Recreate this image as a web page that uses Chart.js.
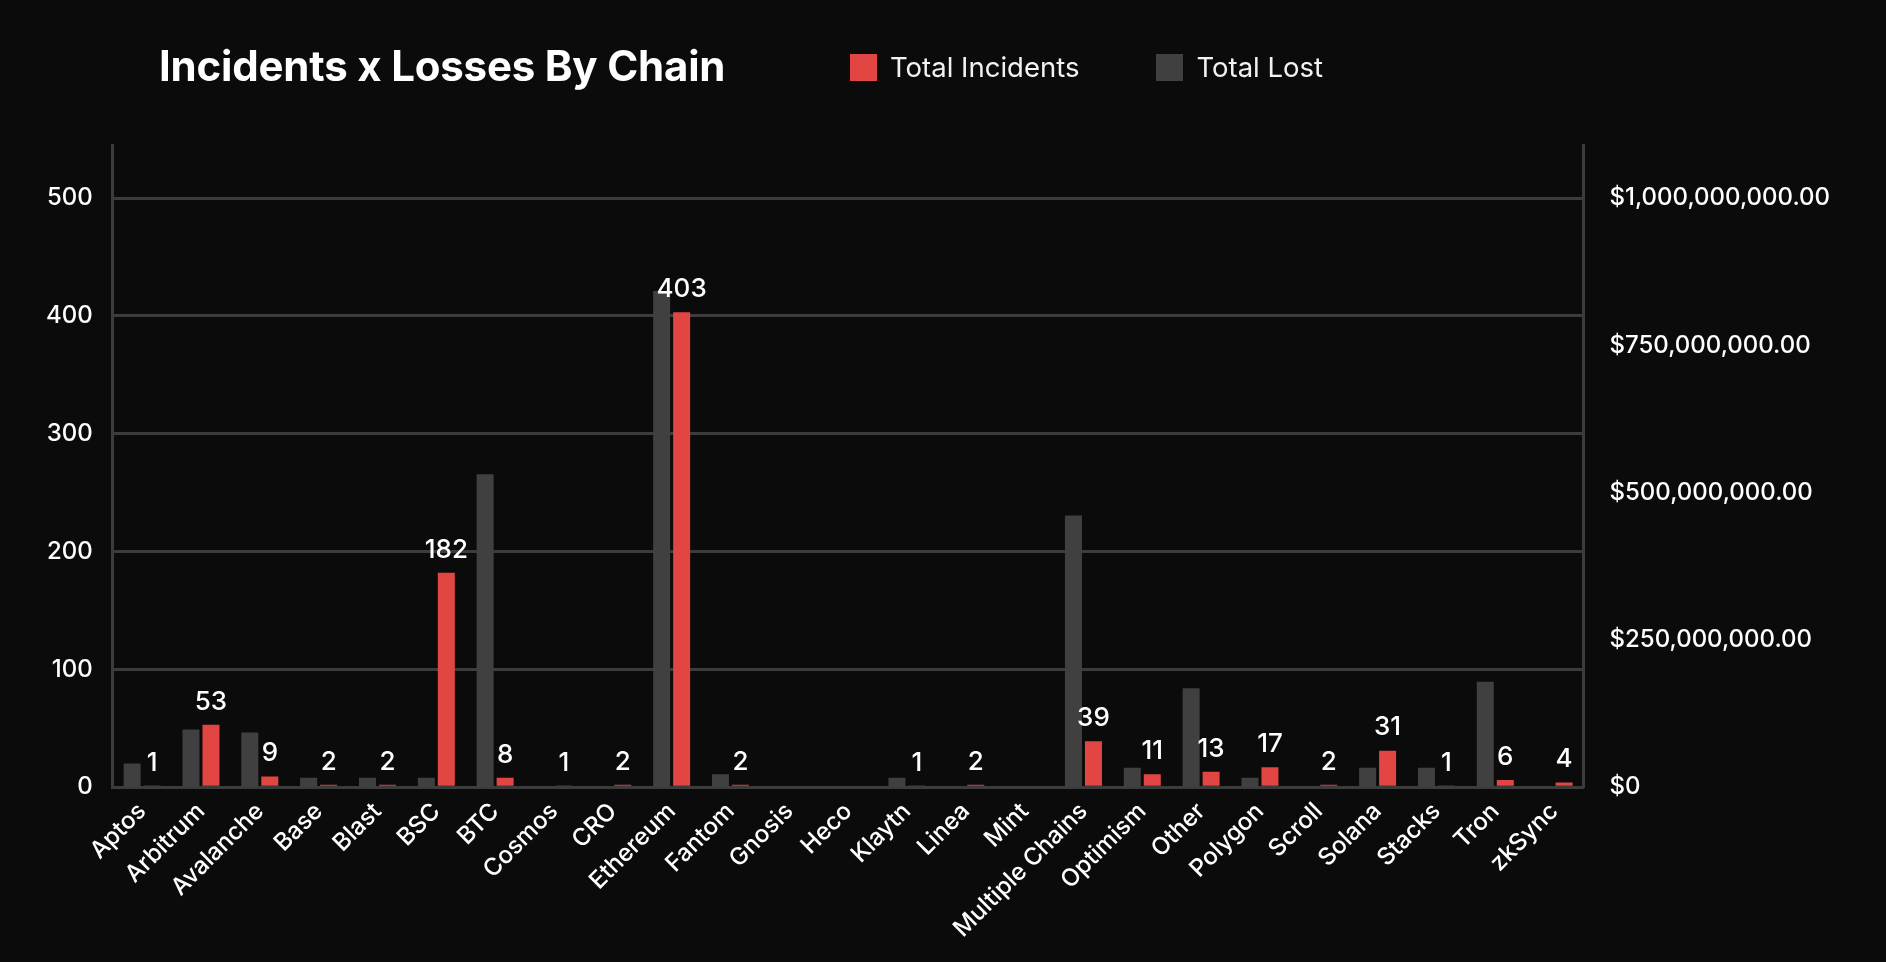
<!DOCTYPE html>
<html>
<head>
<meta charset="utf-8">
<script src="https://cdn.jsdelivr.net/npm/chart.js@4.4.1/dist/chart.umd.min.js"></script>
<style>
  html, body { margin: 0; padding: 0; background: #0b0b0b; overflow: hidden; }
  #wrap { position: relative; width: 1886px; height: 962px; }
  #title { position: absolute; left: 159px; top: 45px; font: 700 42px/42px Inter, sans-serif; color: #fff; letter-spacing: -0.2px; }
  #legend { position: absolute; left: 850px; top: 54px; display: flex; align-items: center; font: 400 27.5px/27px Inter, sans-serif; color: #f2f2f2; }
  #legend span.box { display: inline-block; width: 27px; height: 27px; margin-right: 13px; }
  #legend span.item { display: flex; align-items: center; margin-right: 77px; }
</style>
</head>
<body>
<div id="wrap">
  <canvas id="chart" width="1886" height="962"></canvas>
  <div id="title">Incidents x Losses By Chain</div>
  <div id="legend">
    <span class="item"><span class="box" style="background:#e24642"></span>Total Incidents</span>
    <span class="item"><span class="box" style="background:#404040"></span>Total Lost</span>
  </div>
</div>
<script>
const chains = ['Aptos', 'Arbitrum', 'Avalanche', 'Base', 'Blast', 'BSC', 'BTC', 'Cosmos', 'CRO', 'Ethereum',
  'Fantom', 'Gnosis', 'Heco', 'Klaytn', 'Linea', 'Mint', 'Multiple Chains', 'Optimism', 'Other', 'Polygon',
  'Scroll', 'Solana', 'Stacks', 'Tron', 'zkSync'];
const totalIncidents = [1, 53, 9, 2, 2, 182, 8, 1, 2, 403, 2, null, null, 1, 2, null, 39, 11, 13, 17, 2, 31, 1, 6, 4];
// USD lost
const totalLost = [40e6, 98e6, 93e6, 16e6, 16e6, 16e6, 531e6, 0, 0, 842e6, 22e6, 0, 0, 16e6, 0, 0, 461e6, 33e6,
  168e6, 16e6, 0, 33e6, 33e6, 179e6, 0];
const incidentTicks = [0, 100, 200, 300, 400, 500];
const lostTicks = [0, 250e6, 500e6, 750e6, 1000e6];

const red = '#e24642';
const grey = '#404040';
const lineColor = '#3c3c3c';

const usd = new Intl.NumberFormat('en-US', { style: 'currency', currency: 'USD', minimumFractionDigits: 2 });

const valueLabels = {
  id: 'valueLabels',
  afterDatasetsDraw(chart) {
    const ctx = chart.ctx;
    const meta = chart.getDatasetMeta(1);
    ctx.save();
    ctx.fillStyle = '#ffffff';
    ctx.font = '500 26px Inter';
    ctx.textAlign = 'center';
    ctx.textBaseline = 'middle';
    meta.data.forEach((bar, i) => {
      const v = totalIncidents[i];
      if (v == null) return;
      ctx.fillText(String(v), bar.x, bar.y - 23);
    });
    ctx.restore();
  }
};

const ctx = document.getElementById('chart').getContext('2d');
new Chart(ctx, {
  type: 'bar',
  data: {
    labels: chains,
    datasets: [
      { label: 'Total Lost', data: totalLost, backgroundColor: grey, yAxisID: 'y1',
        categoryPercentage: 0.68, barPercentage: 0.85 },
      { label: 'Total Incidents', data: totalIncidents, backgroundColor: red, yAxisID: 'y',
        categoryPercentage: 0.68, barPercentage: 0.85 }
    ]
  },
  options: {
    responsive: false,
    animation: false,
    layout: { padding: { top: 145, left: 26, right: 30, bottom: 17 } },
    plugins: {
      legend: { display: false },
      tooltip: { enabled: false }
    },
    scales: {
      x: {
        grid: { display: false },
        border: { color: lineColor, width: 3 },
        ticks: { color: '#ffffff', font: { family: 'Inter', size: 24, weight: 500 }, minRotation: 45, maxRotation: 45, padding: 2 }
      },
      y: {
        position: 'left',
        min: 0,
        max: 545,
        afterBuildTicks: (axis) => { axis.ticks = incidentTicks.map(v => ({ value: v })); },
        grid: { color: lineColor, lineWidth: 3, drawTicks: false },
        border: { color: lineColor, width: 3 },
        ticks: { color: '#ffffff', font: { family: 'Inter', size: 24, weight: 500 }, padding: 20 }
      },
      y1: {
        position: 'right',
        min: 0,
        max: 1090e6,
        afterBuildTicks: (axis) => { axis.ticks = lostTicks.map(v => ({ value: v })); },
        grid: { drawOnChartArea: false, drawTicks: false },
        border: { color: lineColor, width: 3 },
        ticks: {
          color: '#ffffff', font: { family: 'Inter', size: 24, weight: 500 }, padding: 26,
          callback: (v) => v === 0 ? '$0' : usd.format(v)
        }
      }
    }
  },
  plugins: [valueLabels]
});
</script>
</body>
</html>
